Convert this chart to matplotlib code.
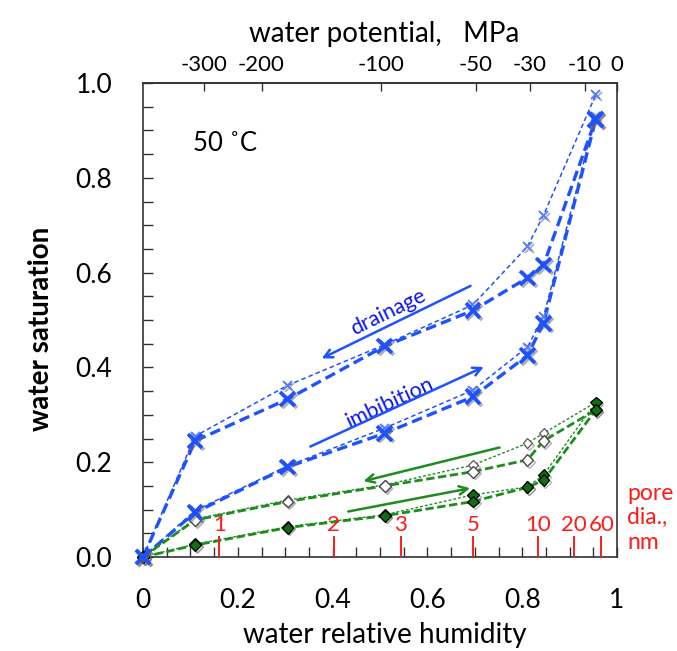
import matplotlib
matplotlib.use("Agg")
import matplotlib.pyplot as plt
import matplotlib.patheffects as pe
from matplotlib.ticker import MultipleLocator

plt.rcParams['font.family'] = ['Lato', 'DejaVu Sans']

# ---------------- data ----------------
rh = [0, 0.11, 0.305, 0.51, 0.696, 0.811, 0.845, 0.955]

blue_drain_thick = [0, 0.245, 0.333, 0.445, 0.520, 0.589, 0.616, 0.923]
blue_drain_thin  = [0, 0.255, 0.362, 0.448, 0.532, 0.655, 0.721, 0.975]
blue_imb_thick   = [0, 0.094, 0.190, 0.261, 0.338, 0.425, 0.493, 0.923]
blue_imb_thin    = [0, 0.098, 0.192, 0.272, 0.352, 0.443, 0.507, 0.930]

green_drain_thick = [0, 0.078, 0.117, 0.150, 0.180, 0.205, 0.245, 0.310]
green_drain_thin  = [0, 0.080, 0.120, 0.152, 0.194, 0.240, 0.261, 0.326]
green_imb_thick   = [0, 0.025, 0.062, 0.087, 0.117, 0.147, 0.162, 0.310]
green_imb_thin    = [0, 0.027, 0.064, 0.089, 0.131, 0.148, 0.173, 0.326]

top_tick_rh = [0.128, 0.250, 0.503, 0.702, 0.816, 0.932, 1.0]
top_tick_labels = ['-300', '-200', '-100', '-50', '-30', '-10', '0']

pore_rh = [0.161, 0.402, 0.544, 0.696, 0.834, 0.909, 0.967]
pore_labels = ['1', '2', '3', '5', '10', '20', '60']

# ---------------- figure ----------------
W, H = 677, 651
fig = plt.figure(figsize=(W / 100, H / 100), dpi=100)
ax = fig.add_axes([143 / W, 1 - 557 / H, 474 / W, 474 / H])
ax.set_xlim(0, 1)
ax.set_ylim(0, 1)

BLUE = '#1f52ff'
GREEN = '#1f8c1f'
RED = '#ff1a1a'

shadow = [pe.SimpleLineShadow(offset=(1.3, -1.3), shadow_color='0.4', alpha=0.5), pe.Normal()]

# blue lines
ax.plot(rh, blue_drain_thick, color=BLUE, lw=2.4, dashes=(3.2, 1.6), zorder=3)
ax.plot(rh, blue_imb_thick, color=BLUE, lw=2.4, dashes=(3.2, 1.6), zorder=3)
ax.plot(rh, blue_drain_thin, color=BLUE, lw=1.1, dashes=(3, 2), zorder=3)
ax.plot(rh, blue_imb_thin, color=BLUE, lw=1.1, dashes=(3, 2), zorder=3)

# green lines
ax.plot(rh, green_drain_thick, color=GREEN, lw=2.0, dashes=(3, 1.3), zorder=3)
ax.plot(rh, green_imb_thick, color=GREEN, lw=2.0, dashes=(3, 1.3), zorder=3)
ax.plot(rh, green_drain_thin, color=GREEN, lw=1.0, dashes=(2, 1.5), zorder=3)
ax.plot(rh, green_imb_thin, color=GREEN, lw=1.0, dashes=(2, 1.5), zorder=3)

# markers
ax.plot(rh, blue_drain_thin, ls='none', marker='x', ms=6.5, mew=1.4, color='#5a7dff',
        zorder=5, clip_on=False, path_effects=shadow)
ax.plot(rh, blue_imb_thin, ls='none', marker='x', ms=6.5, mew=1.4, color='#5a7dff',
        zorder=5, clip_on=False, path_effects=shadow)
ax.plot(rh, blue_drain_thick, ls='none', marker='x', ms=10.5, mew=2.7, color=BLUE,
        zorder=6, clip_on=False, path_effects=shadow)
ax.plot(rh, blue_imb_thick, ls='none', marker='x', ms=10.5, mew=2.7, color=BLUE,
        zorder=6, clip_on=False, path_effects=shadow)

ax.plot(rh, green_drain_thin, ls='none', marker='D', ms=5, mew=0.9, mfc='white', mec='0.35',
        zorder=5, clip_on=False, path_effects=shadow)
ax.plot(rh, green_drain_thick, ls='none', marker='D', ms=6, mew=1.0, mfc='white', mec='0.3',
        zorder=5, clip_on=False, path_effects=shadow)
ax.plot(rh, green_imb_thin, ls='none', marker='D', ms=6, mew=0.9, mfc='#0f6e0f', mec='black',
        zorder=5, clip_on=False, path_effects=shadow)
ax.plot(rh, green_imb_thick, ls='none', marker='D', ms=6, mew=0.9, mfc='#0f6e0f', mec='black',
        zorder=5, clip_on=False, path_effects=shadow)

# arrows
def arrow(start, end, color):
    ax.annotate('', xy=end, xytext=start,
                arrowprops=dict(arrowstyle='->,head_length=0.6,head_width=0.3',
                                color=color, lw=1.8, shrinkA=0, shrinkB=0), zorder=4)

arrow((0.691, 0.572), (0.377, 0.419), BLUE)
arrow((0.353, 0.233), (0.719, 0.401), BLUE)
arrow((0.752, 0.231), (0.465, 0.160), GREEN)
arrow((0.433, 0.096), (0.690, 0.145), GREEN)

ax.text(0.517, 0.517, 'drainage', color='#0a14f0', fontsize=15.5, rotation=26,
        ha='center', va='center', rotation_mode='anchor')
ax.text(0.521, 0.326, 'imbibition', color='#0a14f0', fontsize=15.5, rotation=25,
        ha='center', va='center', rotation_mode='anchor')

ax.text(0.105, 0.873, '50 ˚C', fontsize=18.5, ha='left', va='center', color='black')

# pore diameter ticks
ax.vlines(pore_rh, 0, 0.045, color=RED, lw=1.4, zorder=4)
for x, lab in zip(pore_rh, pore_labels):
    ax.text(x, 0.067, lab, color=RED, fontsize=16, ha='center', va='center')
ax.text(1.022, 0.083, 'pore\ndia.,\nnm', color=RED, fontsize=16.5, ha='left', va='center',
        linespacing=1.2, transform=ax.transData, clip_on=False)

# axes styling
for s in ax.spines.values():
    s.set_linewidth(1.2)
    s.set_color('#333333')
ax.xaxis.set_minor_locator(MultipleLocator(0.05))
ax.yaxis.set_minor_locator(MultipleLocator(0.05))
ax.set_xticks([0, 0.2, 0.4, 0.6, 0.8, 1.0])
ax.set_xticklabels(['0', '0.2', '0.4', '0.6', '0.8', '1'])
ax.set_yticks([0, 0.2, 0.4, 0.6, 0.8, 1.0])
ax.set_yticklabels(['0.0', '0.2', '0.4', '0.6', '0.8', '1.0'])
ax.tick_params(which='both', direction='in', top=False, right=False, width=1.0, color='#333333')
ax.tick_params(which='major', length=7)
ax.tick_params(which='minor', length=7)
ax.tick_params(axis='x', labelsize=19, pad=22)
ax.tick_params(axis='y', labelsize=19, pad=22)

sec = ax.secondary_xaxis('top')
sec.set_xticks(top_tick_rh)
sec.set_xticklabels(top_tick_labels)
sec.tick_params(direction='in', length=6, width=1.0, labelsize=16, pad=6, color='#333333')
sec.spines['top'].set_linewidth(1.2)
sec.spines['top'].set_color('#333333')

fig.text(384 / W, 1 - 42 / H, 'water potential,   MPa', fontsize=20, ha='center', va='baseline')
fig.text(385 / W, 1 - 643 / H, 'water relative humidity', fontsize=20, ha='center', va='baseline')
fig.text(41 / W, 1 - 329 / H, 'water saturation', fontsize=20, fontweight='bold',
         ha='center', va='center', rotation=90)

fig.savefig('out.png', dpi=100)
